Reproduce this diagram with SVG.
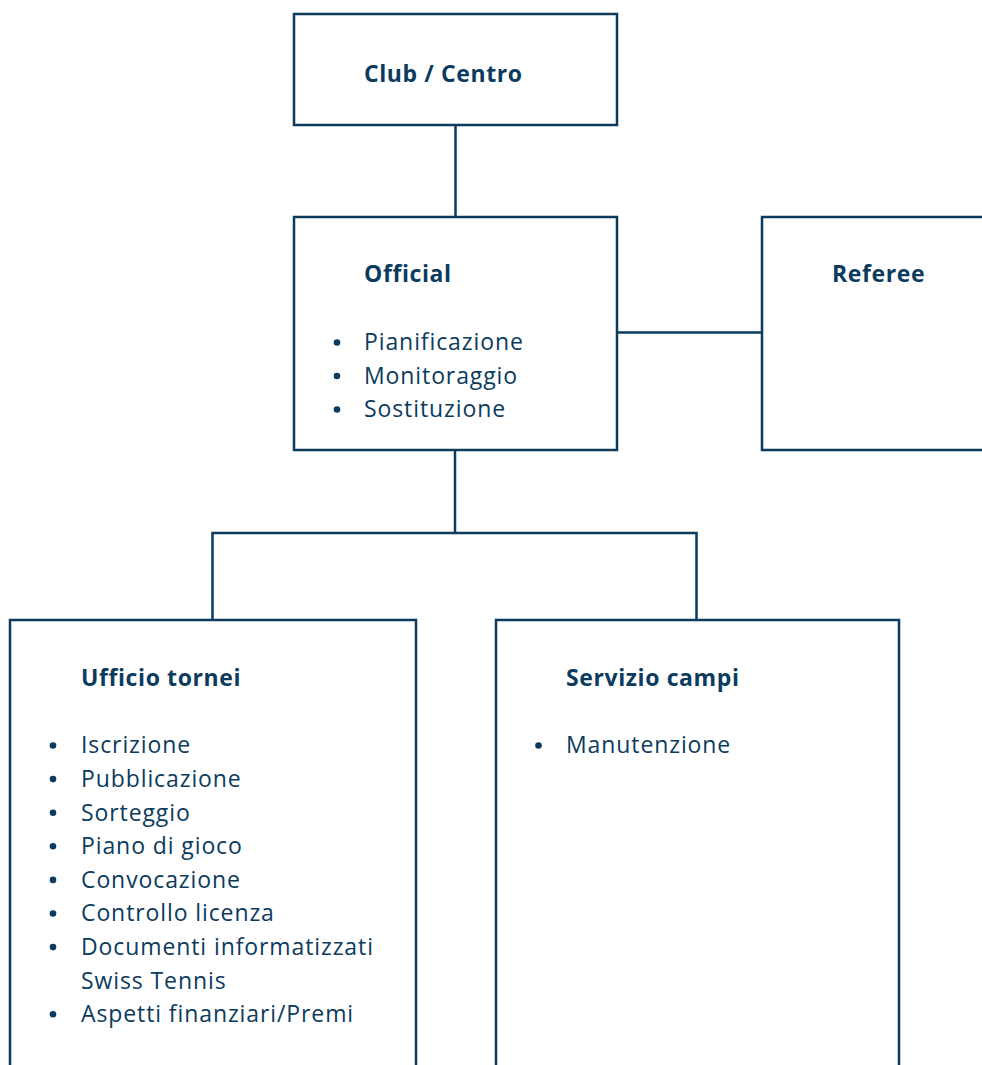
<svg xmlns="http://www.w3.org/2000/svg" width="982" height="1065" viewBox="0 0 982 1065">
<style>
.box{fill:#ffffff;stroke:#0c3b5e;stroke-width:2.5}
.ln{fill:none;stroke:#0c3b5e;stroke-width:2.5}
.t{font-family:"Open Sans","Liberation Sans",sans-serif;font-size:23px;fill:#0c3b5e;letter-spacing:0.9px}
.b{font-weight:700;letter-spacing:0.6px}
.dot{fill:#0c3b5e}
</style>
<rect width="982" height="1065" fill="#ffffff"/>
<g id="connectors">
<line class="ln" x1="455.5" y1="125" x2="455.5" y2="217"/>
<line class="ln" x1="617" y1="332.5" x2="762" y2="332.5"/>
<line class="ln" x1="455" y1="450" x2="455" y2="533"/>
<polyline class="ln" points="212.5,620 212.5,533 696.5,533 696.5,620"/>
</g>
<g id="club">
<rect class="box" x="294" y="14" width="323" height="111"/>
<text class="t b" x="364" y="82">Club / Centro</text>
</g>
<g id="official">
<rect class="box" x="294" y="217" width="323" height="233"/>
<text class="t b" x="364" y="282">Official</text>
<circle class="dot" cx="337" cy="342.5" r="3.3"/>
<circle class="dot" cx="337" cy="376" r="3.3"/>
<circle class="dot" cx="337" cy="409.5" r="3.3"/>
<text class="t" x="364" y="350">Pianificazione</text>
<text class="t" x="364" y="383.5">Monitoraggio</text>
<text class="t" x="364" y="417">Sostituzione</text>
</g>
<g id="referee">
<rect class="box" x="762" y="217" width="240" height="233"/>
<text class="t b" x="832" y="282">Referee</text>
</g>
<g id="ufficio">
<rect class="box" x="10" y="620" width="406" height="470"/>
<text class="t b" x="81" y="686">Ufficio tornei</text>
<g class="dot">
<circle cx="53" cy="745.5" r="3.3"/>
<circle cx="53" cy="779.1" r="3.3"/>
<circle cx="53" cy="812.7" r="3.3"/>
<circle cx="53" cy="846.3" r="3.3"/>
<circle cx="53" cy="879.9" r="3.3"/>
<circle cx="53" cy="913.5" r="3.3"/>
<circle cx="53" cy="947.1" r="3.3"/>
<circle cx="53" cy="1014.3" r="3.3"/>
</g>
<text class="t" x="81" y="753.3">Iscrizione</text>
<text class="t" x="81" y="786.9">Pubblicazione</text>
<text class="t" x="81" y="820.5">Sorteggio</text>
<text class="t" x="81" y="854.1">Piano di gioco</text>
<text class="t" x="81" y="887.7">Convocazione</text>
<text class="t" x="81" y="921.3">Controllo licenza</text>
<text class="t" x="81" y="954.9">Documenti informatizzati</text>
<text class="t" x="81" y="988.5">Swiss Tennis</text>
<text class="t" x="81" y="1022.1">Aspetti finanziari/Premi</text>
</g>
<g id="servizio">
<rect class="box" x="496" y="620" width="403" height="470"/>
<text class="t b" x="566" y="686">Servizio campi</text>
<circle class="dot" cx="538.5" cy="745.5" r="3.3"/>
<text class="t" x="566" y="753.3">Manutenzione</text>
</g>
</svg>
